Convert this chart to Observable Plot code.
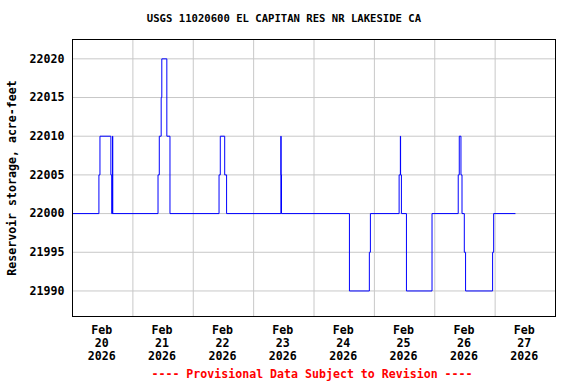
<!DOCTYPE html>
<html>
<head>
<meta charset="utf-8">
<script src="https://cdn.jsdelivr.net/npm/d3@7"></script>
<script src="https://cdn.jsdelivr.net/npm/@observablehq/plot@0.6"></script>
<style>
  html, body { margin: 0; padding: 0; background: #fff; }
  #wrap { position: relative; width: 576px; height: 384px; overflow: hidden; }
  #title, #footer { position: absolute; width: 576px; text-align: center;
    font-family: "DejaVu Sans Mono", monospace; font-weight: bold; white-space: pre; }
  #title { top: 12px; left: -4px; font-size: 10.6px; }
  #footer { top: 367px; left: 24px; font-size: 11.6px; color: #ff0000; }
  #chart { position: absolute; left: 0; top: 0; }
</style>
</head>
<body>
<div id="wrap">
  <div id="chart"></div>
  <div id="title"></div>
  <div id="footer"></div>
</div>
<script>
const titleText = "USGS 11020600 EL CAPITAN RES NR LAKESIDE CA";
const footerText = "---- Provisional Data Subject to Revision ----";
const yLabel = "Reservoir storage, acre-feet";

// step series: time (UTC) and storage value at each change
const times = [
  "2026-02-20T00:00Z", "2026-02-20T10:30Z", "2026-02-20T10:55Z", "2026-02-20T15:15Z",
  "2026-02-20T15:35Z", "2026-02-20T15:55Z", "2026-02-20T16:00Z",
  "2026-02-21T10:00Z", "2026-02-21T10:30Z", "2026-02-21T11:15Z", "2026-02-21T11:30Z",
  "2026-02-21T13:30Z", "2026-02-21T14:45Z",
  "2026-02-22T10:15Z", "2026-02-22T10:45Z", "2026-02-22T12:30Z", "2026-02-22T13:15Z",
  "2026-02-23T10:50Z", "2026-02-23T10:55Z", "2026-02-23T11:05Z",
  "2026-02-24T14:05Z", "2026-02-24T22:00Z", "2026-02-24T22:25Z",
  "2026-02-25T09:50Z", "2026-02-25T10:20Z", "2026-02-25T10:25Z", "2026-02-25T10:45Z",
  "2026-02-25T12:45Z", "2026-02-25T22:55Z",
  "2026-02-26T09:20Z", "2026-02-26T09:45Z", "2026-02-26T10:25Z", "2026-02-26T10:50Z",
  "2026-02-26T11:45Z", "2026-02-26T12:15Z", "2026-02-26T23:00Z", "2026-02-26T23:25Z",
  "2026-02-27T08:00Z"
];
const values = [
  22000, 22005, 22010, 22005,
  22000, 22010, 22000,
  22005, 22010, 22015, 22020,
  22010, 22000,
  22005, 22010, 22005, 22000,
  22010, 22005, 22000,
  21990, 21995, 22000,
  22005, 22010, 22005, 22000,
  21990, 22000,
  22005, 22010, 22005, 22000,
  21995, 21990, 21995, 22000,
  22000
];

const dayStarts = ["2026-02-20", "2026-02-21", "2026-02-22", "2026-02-23", "2026-02-24",
  "2026-02-25", "2026-02-26", "2026-02-27", "2026-02-28"];
const dayLabels = ["Feb\n20\n2026", "Feb\n21\n2026", "Feb\n22\n2026", "Feb\n23\n2026",
  "Feb\n24\n2026", "Feb\n25\n2026", "Feb\n26\n2026", "Feb\n27\n2026"];
const yTicks = [21990, 21995, 22000, 22005, 22010, 22015, 22020];
const yDomain = [21986.7, 22022.5];

const data = times.map((t, i) => ({t: new Date(t), v: values[i]}));
const dayDates = dayStarts.map(d => new Date(d + "T00:00Z"));
const noonDates = dayDates.slice(0, -1).map(d => new Date(+d + 12 * 3600e3));
const labelOf = new Map(noonDates.map((d, i) => [+d, dayLabels[i]]));

const font = "DejaVu Sans Mono, monospace";

const chart = Plot.plot({
  width: 576,
  height: 384,
  marginLeft: 72,
  marginRight: 21,
  marginTop: 39,
  marginBottom: 68,
  style: {fontFamily: font, fontWeight: "bold", fontSize: "11.6px", color: "black", background: "white"},
  x: {type: "utc", domain: [dayDates[0], dayDates[dayDates.length - 1]]},
  y: {domain: yDomain},
  marks: [
    Plot.gridX(dayDates.slice(1, -1), {stroke: "#c8c8c8", strokeOpacity: 1, strokeWidth: 1}),
    Plot.gridY(yTicks, {stroke: "#c8c8c8", strokeOpacity: 1, strokeWidth: 1}),
    Plot.axisX(noonDates, {tickSize: 0, tickPadding: 8, tickFormat: d => labelOf.get(+d),
      lineHeight: 1.12, fontSize: 11.6, label: null, dx: -1}),
    Plot.axisY(yTicks, {tickSize: 0, tickPadding: 8, tickFormat: d => String(d), fontSize: 11.6,
      label: yLabel, labelAnchor: "center", labelArrow: "none", labelOffset: 65}),
    Plot.line(data, {x: "t", y: "v", curve: "step-after", stroke: "#0000ff", strokeWidth: 1}),
    Plot.frame({stroke: "black", strokeWidth: 1})
  ]
});
document.getElementById("chart").appendChild(chart);
document.getElementById("title").textContent = titleText;
document.getElementById("footer").textContent = footerText;
</script>
</body>
</html>
